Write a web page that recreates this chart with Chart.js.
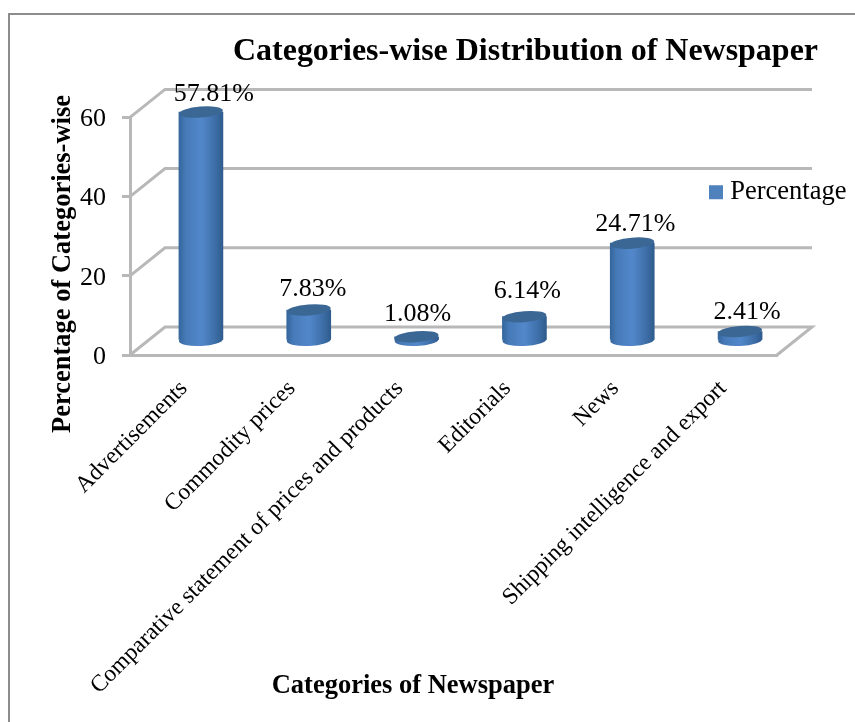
<!DOCTYPE html>
<html>
<head>
<meta charset="utf-8">
<title>Categories-wise Distribution of Newspaper</title>
<style>
  html, body { margin: 0; padding: 0; background: #fff; }
  canvas { display: block; }
</style>
<script src="https://cdn.jsdelivr.net/npm/chart.js"></script>
</head>
<body>
<canvas id="newsChart" width="855" height="722"></canvas>
<script>
const categories = [
    'Advertisements',
    'Commodity prices',
    'Comparative statement of prices and products',
    'Editorials',
    'News',
    'Shipping intelligence and export'
];
const percentages = [57.81, 7.83, 1.08, 6.14, 24.71, 2.41];
const percentLabels = ['57.81%', '7.83%', '1.08%', '6.14%', '24.71%', '2.41%'];
const yTicks = [0, 20, 40, 60];
const seriesName = 'Percentage';
const chartTitle = 'Categories-wise Distribution of Newspaper';
const xAxisTitle = 'Categories of Newspaper';
const yAxisTitle = 'Percentage of Categories-wise';

const serif = '"Liberation Serif", "Times New Roman", serif';
const gridColor = '#b8b8b8';

// how far the back wall sits behind the front of the 3D box
const wallDx = 35, wallDy = -28;
// bars stand in the middle of the floor
const barDx = 17, barDy = -14;
const barWidth = 44;

function cylinderFill(ctx, x) {
    const g = ctx.createLinearGradient(x - barWidth / 2, 0, x + barWidth / 2, 0);
    g.addColorStop(0, '#35659c');
    g.addColorStop(0.15, '#467ab8');
    g.addColorStop(0.5, '#5288cb');
    g.addColorStop(0.8, '#3f70aa');
    g.addColorStop(1, '#2f5c8e');
    return g;
}

const box3d = {
    id: 'box3d',
    afterLayout(chart) {
        // title and legend do not sit where the layout would put them
        chart.titleBlock.left = 233;
        chart.titleBlock.right = 818;
        const lg = chart.legend;
        lg.left = 705;
        lg.right = 855;
        lg.top = 169;
        lg.bottom = 210;
    },
    beforeDraw(chart) {
        const ctx = chart.ctx;
        ctx.save();
        ctx.strokeStyle = '#8c8c8c';
        ctx.lineWidth = 2;
        ctx.beginPath();
        ctx.moveTo(9, 722);
        ctx.lineTo(9, 14);
        ctx.lineTo(855, 14);
        ctx.stroke();
        ctx.restore();
    },
    beforeDatasetsDraw(chart) {
        const ctx = chart.ctx;
        const { left, right } = chart.chartArea;
        const y = chart.scales.y;
        ctx.save();
        ctx.strokeStyle = gridColor;
        ctx.lineWidth = 3;
        yTicks.forEach(v => {
            const py = y.getPixelForValue(v);
            ctx.beginPath();
            ctx.moveTo(left, py);
            ctx.lineTo(left + wallDx, py + wallDy);
            ctx.lineTo(right + wallDx, py + wallDy);
            if (v === 0) ctx.lineTo(right, py);
            ctx.stroke();
        });
        ctx.restore();

        // bars go through the same offset, undone in afterDatasetsDraw
        ctx.save();
        ctx.translate(barDx, barDy);
        const base = y.getPixelForValue(0);
        chart.getDatasetMeta(0).data.forEach(bar => {
            ctx.fillStyle = cylinderFill(ctx, bar.x);
            ctx.beginPath();
            ctx.ellipse(bar.x, base - 1, barWidth / 2, 6, -0.05, 0, Math.PI * 2);
            ctx.fill();
        });
    },
    afterDatasetsDraw(chart) {
        const ctx = chart.ctx;
        const nudgeX = [13, 4, 1, 3, 3, 7];
        const nudgeY = [-18, -21, -23, -26, -19, -19];
        chart.getDatasetMeta(0).data.forEach(bar => {
            ctx.fillStyle = '#3b6795';
            ctx.beginPath();
            ctx.ellipse(bar.x, bar.y, barWidth / 2, 5.5, -0.08, 0, Math.PI * 2);
            ctx.fill();
        });
        ctx.fillStyle = '#000';
        ctx.font = '26px ' + serif;
        ctx.textAlign = 'center';
        ctx.textBaseline = 'middle';
        chart.getDatasetMeta(0).data.forEach((bar, i) => {
            ctx.fillText(percentLabels[i], bar.x + nudgeX[i], bar.y + nudgeY[i]);
        });
        ctx.restore();

        // axis titles are off-centre from the plot area, so placed by hand
        ctx.save();
        ctx.fillStyle = '#000';
        ctx.textAlign = 'center';
        ctx.textBaseline = 'middle';
        ctx.font = 'bold 26.5px ' + serif;
        ctx.fillText(xAxisTitle, 413, 686);
        ctx.translate(63, 264);
        ctx.rotate(-Math.PI / 2);
        ctx.fillText(yAxisTitle, 0, 0);
        ctx.restore();
    }
};

new Chart(document.getElementById('newsChart'), {
    type: 'bar',
    plugins: [box3d],
    data: {
        labels: categories,
        datasets: [{
            label: seriesName,
            data: percentages,
            barThickness: barWidth,
            clip: false,
            backgroundColor: c => {
                const x = c.chart.scales.x;
                if (!x || c.dataIndex === undefined) return '#4f81bd';
                return cylinderFill(c.chart.ctx, x.getPixelForValue(c.dataIndex));
            }
        }]
    },
    options: {
        responsive: false,
        animation: false,
        layout: { padding: { left: 0, top: 0, right: 78, bottom: 0 } },
        font: { family: serif },
        plugins: {
            title: {
                display: true,
                text: chartTitle,
                color: '#000',
                font: { family: serif, size: 32, weight: 'bold' },
                padding: { top: 33, bottom: 46 }
            },
            legend: {
                position: 'chartArea',
                align: 'start',
                labels: {
                    // small box with a thick border, keeps the text close to the marker
                    boxWidth: 2,
                    boxHeight: 2,
                    color: '#000',
                    font: { family: serif, size: 26.5 },
                    generateLabels: () => [{
                        text: seriesName,
                        fillStyle: '#4f81bd',
                        strokeStyle: '#4f81bd',
                        lineWidth: 12,
                        fontColor: '#000'
                    }]
                }
            },
            tooltip: { enabled: false }
        },
        scales: {
            x: {
                grid: { display: false },
                border: { color: gridColor, width: 3 },
                ticks: {
                    color: '#000',
                    autoSkip: false,
                    minRotation: 45,
                    maxRotation: 45,
                    padding: 12,
                    font: { family: serif, size: 23.5 }
                },
                afterFit: s => {
                    s.height = 722 - 355;
                    s.paddingLeft = s.paddingRight = 0;
                }
            },
            y: {
                min: 0,
                max: 60,
                ticks: {
                    stepSize: 20,
                    color: '#000',
                    padding: 16,
                    labelOffset: 2,
                    font: { family: serif, size: 26 }
                },
                grid: { drawOnChartArea: false, color: gridColor, lineWidth: 3, tickLength: 8 },
                border: { color: gridColor, width: 3 },
                afterFit: s => {
                    s.width = 130;
                    s.paddingTop = s.paddingBottom = 0;
                }
            }
        }
    }
});
</script>
</body>
</html>
